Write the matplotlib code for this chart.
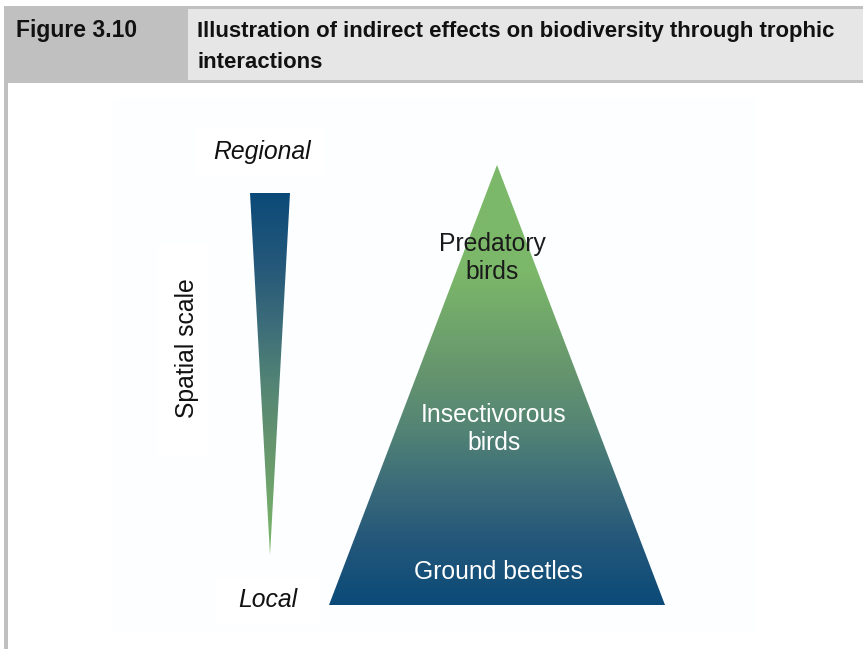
import matplotlib
matplotlib.use("Agg")
import matplotlib.pyplot as plt
import numpy as np
from matplotlib.patches import Polygon, Rectangle
from matplotlib.colors import to_rgb
from matplotlib import font_manager
from matplotlib.font_manager import FontProperties

# ---- content ----
fig_label = "Figure 3.10"
title_lines = ["Illustration of indirect effects on biodiversity through trophic",
               "interactions"]
scale_labels = ["Regional", "Local"]
axis_label = "Spatial scale"
levels = ["Predatory\nbirds", "Insectivorous\nbirds", "Ground beetles"]
level_colors = ["#1a1a1a", "white", "white"]

# ---- geometry (pixel coordinates of the 863x649 canvas) ----
W, H = 863, 649
wedge_x = [250, 290, 270]
wedge_y = [193, 193, 555]
pyr_x = [497, 665, 329]
pyr_y = [165, 605, 605]
level_pos = [(492, 258), (494, 429), (498, 572)]

# gradient colour ramp (fraction from green end -> blue end)
ramp_frac = [0.0, 0.31, 0.46, 0.62, 0.80, 1.0]
ramp_cols = ["#7cb869", "#65946e", "#558674", "#3f6f79", "#25587a", "#0b4a78"]

plt.rcParams['font.family'] = ['Liberation Sans', 'DejaVu Sans']

hdr_fp = None
hdr_size = 15.9
for f in font_manager.fontManager.ttflist:
    if f.name == "Liberation Sans Narrow" and f.weight in (700, 'bold') and f.style == 'normal':
        hdr_fp = FontProperties(fname=f.fname)
        hdr_size = 18.5
        break
if hdr_fp is None:
    hdr_fp = FontProperties(family='Liberation Sans', weight='bold')

fig = plt.figure(figsize=(W / 100, H / 100), dpi=100)
ax = fig.add_axes([0, 0, 1, 1])
ax.set_xlim(0, W)
ax.set_ylim(H, 0)
ax.axis('off')

# header
ax.add_patch(Rectangle((4, 6), W - 4, 77, color="#c0c0c0", lw=0))
ax.add_patch(Rectangle((188, 9), W - 188, 71, color="#e6e6e6", lw=0))
ax.add_patch(Rectangle((4, 6), 3.5, H - 6, color="#c0c0c0", lw=0))
ax.text(16, 31, fig_label, fontproperties=hdr_fp, fontsize=16.5 if hdr_size < 16 else hdr_size,
        va='center', ha='left', color="#111111")
ax.text(197, 31, title_lines[0], fontproperties=hdr_fp, fontsize=hdr_size,
        va='center', ha='left', color="#111111")
ax.text(197, 63, title_lines[1], fontproperties=hdr_fp, fontsize=hdr_size,
        va='center', ha='left', color="#111111")

# inner pale panel
ax.add_patch(Rectangle((113, 98), 644, 535, color="#fcfeff", lw=0))
ax.add_patch(Rectangle((195, 128), 130, 47, color="white", lw=0))
ax.add_patch(Rectangle((158, 243), 51, 212, color="white", lw=0))
ax.add_patch(Rectangle((217, 578), 102, 47, color="white", lw=0))


def grad_fill(xs, ys, y_green, y_blue):
    poly = Polygon(list(zip(xs, ys)), closed=True, facecolor='none', edgecolor='none')
    ax.add_patch(poly)
    y0, y1 = min(ys), max(ys)
    yy = np.linspace(y0, y1, 500)
    t = np.clip((yy - y_green) / (y_blue - y_green), 0, 1)
    cols = np.array([to_rgb(c) for c in ramp_cols])
    img = np.stack([np.interp(t, ramp_frac, cols[:, k]) for k in range(3)], axis=-1)
    img = img[:, None, :]
    im = ax.imshow(img, extent=[min(xs), max(xs), y1, y0], aspect='auto',
                   interpolation='bilinear', origin='upper', zorder=2)
    im.set_clip_path(poly)


grad_fill(wedge_x, wedge_y, 555, 193)
grad_fill(pyr_x, pyr_y, 270, 605)
ax.set_xlim(0, W)
ax.set_ylim(H, 0)

fs = 17.8
ax.text(262, 152, scale_labels[0], style='italic', fontsize=fs, ha='center', va='center', color="#111111")
ax.text(268, 600, scale_labels[1], style='italic', fontsize=fs, ha='center', va='center', color="#111111")
ax.text(187, 348, axis_label, rotation=90, fontsize=fs, ha='center', va='center', color="#111111")
for lab, (x, y), c in zip(levels, level_pos, level_colors):
    ax.text(x, y, lab, fontsize=fs, ha='center', va='center', color=c,
            linespacing=1.22, zorder=5)

fig.savefig("out.png", dpi=100)
